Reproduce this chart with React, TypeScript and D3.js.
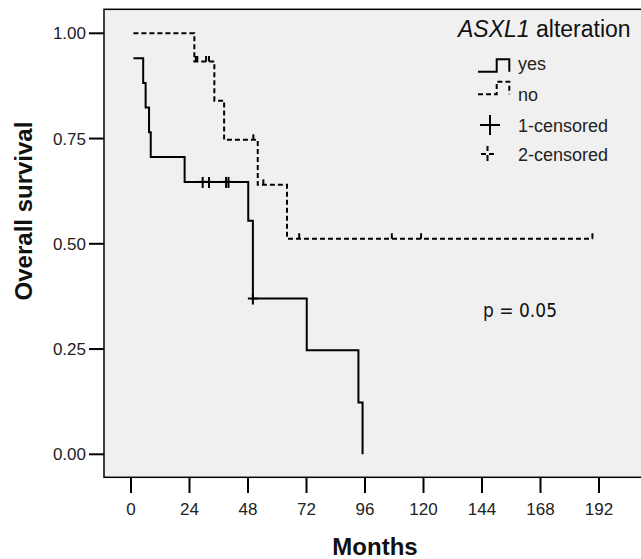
import React from "react";
import * as d3 from "d3";

// Kaplan-Meier steps: [months, survival after step]
const yesSteps: [number, number][] = [
  [1, 0.941], [5, 0.882], [6, 0.824], [7.4, 0.765], [8.1, 0.706], [22, 0.647],
  [48.1, 0.555], [50, 0.37], [72.1, 0.247], [93.3, 0.123], [95, 0],
];
const yesCensored = [29.4, 32, 39, 40, 50];

const noSteps: [number, number][] = [
  [1, 1], [26, 0.933], [34.2, 0.84], [38.2, 0.747], [52, 0.64], [64, 0.512], [189.3, 0.512],
];
const noCensored = [26.6, 27.2, 30.8, 32, 50.2, 54.3, 69, 107, 119, 189.3];

const xTicks = [0, 24, 48, 72, 96, 120, 144, 168, 192];
const yTicks = [0, 0.25, 0.5, 0.75, 1];
const legendItems = ["yes", "no", "1-censored", "2-censored"];

const W = 641;
const H = 559;
const frame = { left: 104, top: 9.3, right: 660, bottom: 477.3 };
const font = "'Liberation Sans', Arial, sans-serif";

const x = d3.scaleLinear().domain([0, 192]).range([131, 599]);
const y = d3.scaleLinear().domain([0, 1]).range([454.3, 33.3]);

const stepLine = d3
  .line<[number, number]>()
  .x((d) => x(d[0]))
  .y((d) => y(d[1]))
  .curve(d3.curveStepAfter);

// survival at time t (value just after the last step at or before t)
const survAt = (steps: [number, number][], t: number) => {
  let s = steps[0][1];
  for (const [tt, v] of steps) if (tt <= t + 1e-9) s = v;
  return s;
};

export default function App() {
  return (
    <div style={{ position: "absolute", left: 0, top: 0 }}>
      <svg width={W} height={H} style={{ display: "block", background: "#fff" }}>
        <rect
          x={frame.left}
          y={frame.top}
          width={frame.right - frame.left}
          height={frame.bottom - frame.top}
          fill="#f0f0f0"
          stroke="#000"
          strokeWidth={1.5}
        />

        {/* y axis */}
        {yTicks.map((t) => (
          <g key={t}>
            <line x1={89} x2={frame.left} y1={y(t)} y2={y(t)} stroke="#000" strokeWidth={2} />
            <text
              x={86}
              y={y(t)}
              dy="0.35em"
              textAnchor="end"
              fontFamily={font}
              fontSize={17}
              fill="#222"
            >
              {t.toFixed(2)}
            </text>
          </g>
        ))}

        {/* x axis */}
        {xTicks.map((t) => (
          <g key={t}>
            <line x1={x(t)} x2={x(t)} y1={frame.bottom} y2={493} stroke="#000" strokeWidth={2} />
            <text
              x={x(t)}
              y={509}
              dy="0.35em"
              textAnchor="middle"
              fontFamily={font}
              fontSize={17}
              fill="#222"
            >
              {t}
            </text>
          </g>
        ))}

        <text
          transform="translate(32,211) rotate(-90)"
          textAnchor="middle"
          fontFamily={font}
          fontWeight="bold"
          fontSize={24}
          fill="#111"
        >
          Overall survival
        </text>
        <text x={375} y={555} textAnchor="middle" fontFamily={font} fontWeight="bold" fontSize={24} fill="#111">
          Months
        </text>

        {/* curves */}
        <path d={stepLine(noSteps) ?? ""} fill="none" stroke="#000" strokeWidth={2} strokeDasharray="5,3" />
        <path d={stepLine(yesSteps) ?? ""} fill="none" stroke="#000" strokeWidth={2} />

        {yesCensored.map((t, i) => {
          const cx = x(t);
          const cy = y(survAt(yesSteps, t));
          return (
            <g key={"c1" + i} stroke="#000" strokeWidth={2}>
              <line x1={cx} x2={cx} y1={cy - 5} y2={cy + 6} />
              <line x1={cx - 5} x2={cx + 5} y1={cy} y2={cy} />
            </g>
          );
        })}
        {noCensored.map((t, i) => {
          const cx = x(t);
          const cy = y(survAt(noSteps, t));
          return <line key={"c2" + i} x1={cx} x2={cx} y1={cy - 5.5} y2={cy} stroke="#000" strokeWidth={2} />;
        })}

        <text
          x={483}
          y={310}
          dy="0.35em"
          fontFamily="'DejaVu Sans', sans-serif"
          fontSize={19}
          fill="#111"
          textLength={74}
          lengthAdjust="spacingAndGlyphs"
        >
          p = 0.05
        </text>

        {/* legend */}
        <text x={458} y={36.5} fontFamily={font} fontSize={23} fill="#111">
          <tspan fontStyle="italic">ASXL1</tspan> alteration
        </text>
        <path d="M478,71.7H496.7V59.3H509.3V71.7" fill="none" stroke="#000" strokeWidth={2} />
        <path d="M478,94.3H496.7V81.7H509.3V94.3" fill="none" stroke="#000" strokeWidth={2} strokeDasharray="5,3" />
        <g stroke="#000" strokeWidth={2}>
          <line x1={480} x2={500} y1={125} y2={125} />
          <line x1={490} x2={490} y1={115} y2={135} />
        </g>
        <g stroke="#000" strokeWidth={2}>
          <line x1={481} x2={486} y1={154} y2={154} />
          <line x1={489} x2={494} y1={154} y2={154} />
          <line x1={487.5} x2={487.5} y1={146} y2={151} />
          <line x1={487.5} x2={487.5} y1={155} y2={161} />
        </g>
        {legendItems.map((d, i) => (
          <text
            key={d}
            x={518}
            y={[64, 95, 126, 155][i]}
            dy="0.35em"
            fontFamily={font}
            fontSize={18}
            fill="#222"
          >
            {d}
          </text>
        ))}
      </svg>
    </div>
  );
}
